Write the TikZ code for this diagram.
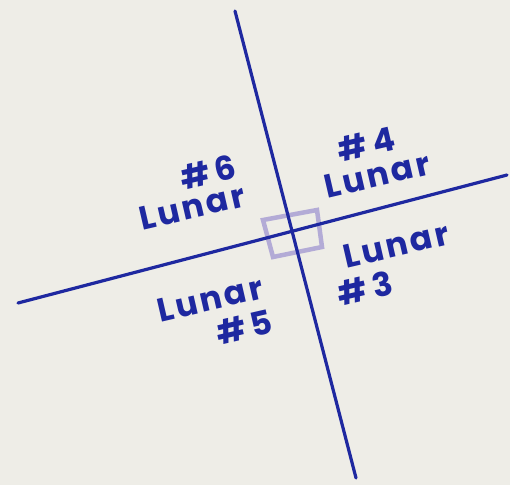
\documentclass[tikz,border=0pt]{standalone}
\usepackage{fontspec}
\setmainfont{Poppins}[LetterSpace=8]
\definecolor{paper}{RGB}{238,237,231}
\definecolor{ink}{RGB}{30,40,160}
\definecolor{lilac}{RGB}{165,155,210}
\begin{document}
\begin{tikzpicture}[x=1pt,y=-1pt,
  hand/.style={draw=ink,line width=3.2pt,line cap=round},
  lbl/.style={text=ink,font=\fontsize{33}{33}\selectfont\bfseries,inner sep=0pt,rotate=13}]
\fill[paper] (0,0) rectangle (510,485);
\useasboundingbox (0,0) rectangle (510,485);
\coordinate (t) at (235,11);
\coordinate (b) at (356,478);
\coordinate (l) at (18,303);
\coordinate (r) at (507,175);
\draw[draw=lilac,line width=4.5pt,opacity=0.8] (263,220) -- (317,210) -- (322,247) -- (273,257) -- cycle;
\draw[hand] (t) -- (b);
\draw[hand] (l) -- (r);
\node[lbl] (n6) at (208,172) {\#\,6};
\node[lbl] (l6) at (192,207) {Lunar};
\node[lbl] (n4) at (366,144) {\#\,4};
\node[lbl] (l4) at (377,175) {Lunar};
\node[lbl] (l3) at (396,245) {Lunar};
\node[lbl] (n3) at (365,288) {\#\,3};
\node[lbl] (l5) at (210,299) {Lunar};
\node[lbl] (n5) at (244,327) {\#\,5};
\end{tikzpicture}
\end{document}
